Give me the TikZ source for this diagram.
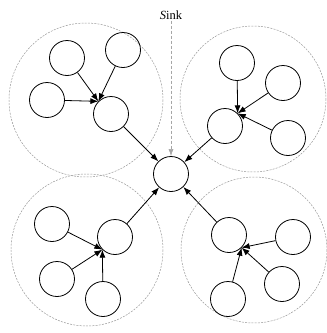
\documentclass[tikz,border=0pt]{standalone}
\usepackage{fontspec}
\setmainfont{Liberation Serif}
\usetikzlibrary{arrows.meta}
\begin{document}
\begin{tikzpicture}[x=1pt,y=-1pt,
  sensor/.style={circle,draw,line width=0.8pt,minimum size=35pt,inner sep=0pt},
  cluster/.style={draw=gray!80,dashed,dash pattern=on 2pt off 1.2pt,line width=0.5pt},
  link/.style={-{Latex[length=8pt,width=6pt]},line width=0.8pt},
  sinklink/.style={-{Latex[length=7pt,width=5pt]},draw=gray!70,densely dashed,line width=0.6pt}]
\useasboundingbox (0,0) rectangle (327,333);
% cluster boundaries
\draw[cluster] (86,100) circle (77);
\draw[cluster] (253,99) circle (73);
\draw[cluster] (87,250) circle (76);
\draw[cluster] (254,250) circle (73);
% sink
\node[sensor] (sink) at (171,174) {};
\node[font=\fontsize{12.5}{14}\selectfont,inner sep=1pt] (label) at (171,15) {\textit{S}ink};
\draw[sinklink] (label.south) -- (sink.north);
% top-left cluster
\node[sensor] (h1) at (111,114) {};
\node[sensor] (a1) at (67,58) {};
\node[sensor] (b1) at (123,50) {};
\node[sensor] (c1) at (47,100) {};
% top-right cluster
\node[sensor] (h2) at (225,126) {};
\node[sensor] (a2) at (237,63) {};
\node[sensor] (b2) at (283,83) {};
\node[sensor] (c2) at (288,138) {};
% bottom-left cluster
\node[sensor] (h3) at (115,237) {};
\node[sensor] (a3) at (52,224) {};
\node[sensor] (b3) at (57,279) {};
\node[sensor] (c3) at (103,299) {};
% bottom-right cluster
\node[sensor] (h4) at (229,235) {};
\node[sensor] (a4) at (293,237) {};
\node[sensor] (b4) at (282,284) {};
\node[sensor] (c4) at (228,299) {};
% members report to the side of their cluster head that faces them
\foreach \i/\side in {1/north west,2/north east,3/south west,4/south east}{
  \draw[link] (a\i) -- (h\i.\side);
  \draw[link] (b\i) -- (h\i.\side);
  \draw[link] (c\i) -- (h\i.\side);
  \draw[link] (h\i) -- (sink);
}
\end{tikzpicture}
\end{document}
